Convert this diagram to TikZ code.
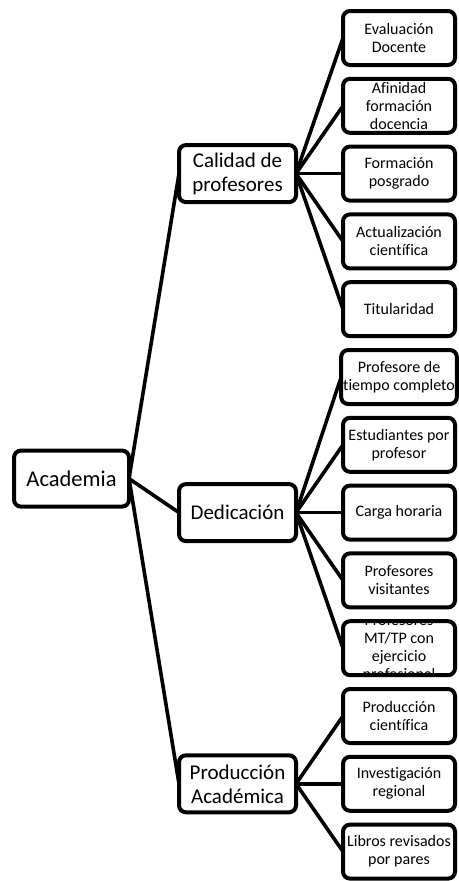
\documentclass[tikz,border=0pt]{standalone}
\usepackage{fontspec}
\setmainfont{Carlito}[Ligatures=NoCommon]
\usetikzlibrary{positioning}

\tikzset{
  box/.style={draw, line width=4pt, rounded corners=7pt, outer sep=0pt,
    align=center, inner xsep=2pt, inner ysep=0pt},
  rootbox/.style={box, minimum width=115pt, minimum height=56pt,
    font=\fontsize{22.5}{26}\selectfont},
  topic/.style={box, minimum width=117pt, minimum height=57pt,
    font=\fontsize{21}{24}\selectfont},
  leaffont/.style={font=\fontsize{16}{18}\selectfont},
  leaf/.style={box, leaffont, minimum width=112pt, minimum height=54pt},
  link/.style={line width=3.6pt}
}

\begin{document}
\begin{tikzpicture}[x=1pt, y=-1pt]
  \useasboundingbox (0,0) rectangle (458,881);

  % Leaves
  % -- Calidad de profesores
  \node [leaf] (eval) at (399,38) {Evaluación\\Docente};
  \node [leaf, below=13.8pt of eval] (afin) {Afinidad\\formación\\docencia};
  \node [leaf, below=13.8pt of afin] (form) {Formación\\posgrado};
  \node [leaf, below=13.8pt of form] (actu) {Actualización\\científica};
  \node [leaf, below=13.8pt of actu] (titu) {Titularidad};
  % -- Dedicación
  \node [leaf, below=13.8pt of titu] (tcomp) {Profesore de\\tiempo completo};
  \node [leaf, below=13.8pt of tcomp] (estu) {Estudiantes por\\profesor};
  \node [leaf, below=13.8pt of estu] (carga) {Carga horaria};
  \node [leaf, below=13.8pt of carga] (visit) {Profesores\\visitantes};
  \node [leaf, below=13.8pt of visit, path picture={%
      \node [leaffont, align=center, anchor=center, inner sep=0pt] (mttptext)
      at (path picture bounding box.center)
      {Profesores\\MT/TP con\\ejercicio\\profesional};}] (mttp) {};
  % -- Producción Académica
  \node [leaf, below=13.8pt of mttp] (pcien) {Producción\\científica};
  \node [leaf, below=13.8pt of pcien] (inve) {Investigación\\regional};
  \node [leaf, below=13.8pt of inve] (libros) {Libros revisados\\por pares};

  % Topics
  \node [topic, left=47pt of form] (cal) {Calidad de\\profesores};
  \node [topic, left=47pt of carga] (ded) {Dedicación};
  \node [topic, left=47pt of inve] (prod) {Producción\\Académica};

  % Root
  \node [rootbox, left=50pt of ded, yshift=34pt] (acad) {Academia};

  % links
  \draw [link] (acad.east) -- (cal.west);
  \draw [link] (acad.east) -- (ded.west);
  \draw [link] (acad.east) -- (prod.west);

  \draw [link] (cal.east) -- (eval.west);
  \draw [link] (cal.east) -- (afin.west);
  \draw [link] (cal.east) -- (form.west);
  \draw [link] (cal.east) -- (actu.west);
  \draw [link] (cal.east) -- (titu.west);

  \draw [link] (ded.east) -- (tcomp.west);
  \draw [link] (ded.east) -- (estu.west);
  \draw [link] (ded.east) -- (carga.west);
  \draw [link] (ded.east) -- (visit.west);
  \draw [link] (ded.east) -- (mttp.west);

  \draw [link] (prod.east) -- (pcien.west);
  \draw [link] (prod.east) -- (inve.west);
  \draw [link] (prod.east) -- (libros.west);
\end{tikzpicture}
\end{document}
